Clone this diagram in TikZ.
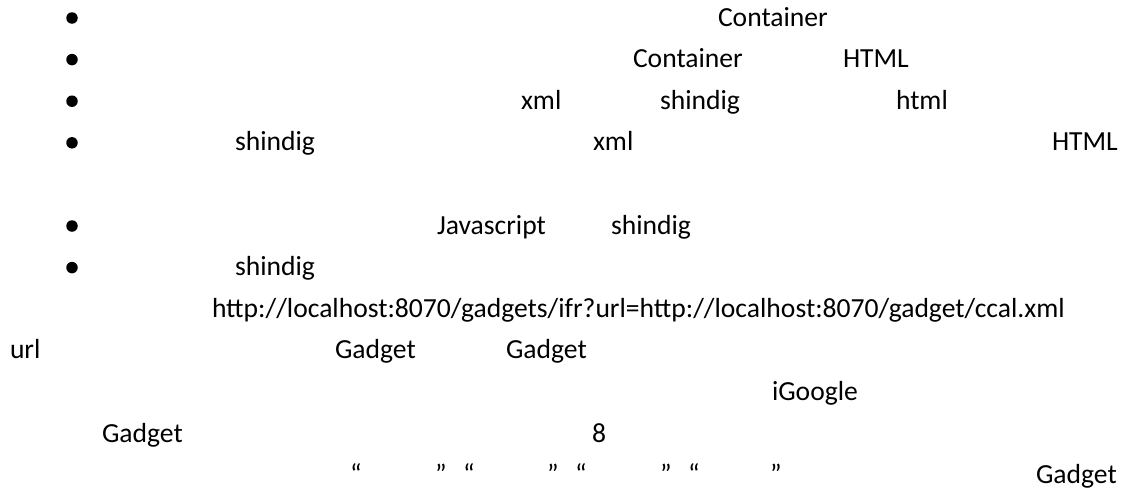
\documentclass[tikz,border=0pt]{standalone}
\usepackage{fontspec}
\setmainfont{Carlito}
\begin{document}
\begin{tikzpicture}[x=1pt,y=-1pt,
  txt/.style={anchor=base west,inner sep=0pt,outer sep=0pt,font=\fontsize{27.6}{33}\selectfont,text=black},
  dot/.style={circle,fill=black,inner sep=0pt,minimum size=11.5pt}]
\useasboundingbox (0,0) rectangle (1125,490);
% bullets
\node[dot] (b1) at (72,18) {};
\node[dot] (b2) at (72,59.6) {};
\node[dot] (b3) at (72,101.2) {};
\node[dot] (b4) at (72,142.8) {};
\node[dot] (b5) at (72,226) {};
\node[dot] (b6) at (72,267.6) {};
% line 1
\node[txt] (t1a) at (718,26) {Container};
% line 2
\node[txt] (t2a) at (633,67.6) {Container};
\node[txt] (t2b) at (843,67.6) {HTML};
% line 3
\node[txt] (t3a) at (521,109.2) {xml};
\node[txt] (t3b) at (660,109.2) {shindig};
\node[txt] (t3c) at (896,109.2) {html};
% line 4
\node[txt] (t4a) at (235,150.8) {shindig};
\node[txt] (t4b) at (593,150.8) {xml};
\node[txt] (t4c) at (1052,150.8) {HTML};
% line 5
\node[txt] (t5a) at (437,234) {Javascript};
\node[txt] (t5b) at (611,234) {shindig};
% line 6
\node[txt] (t6a) at (235,275.6) {shindig};
% line 7
\node[txt] (t7a) at (212,317.2) {http://localhost:8070/gadgets/ifr?url=http://localhost:8070/gadget/ccal.xml};
% line 8
\node[txt] (t8a) at (10,358.8) {url};
\node[txt] (t8b) at (335,358.8) {Gadget};
\node[txt] (t8c) at (506,358.8) {Gadget};
% line 9
\node[txt] (t9a) at (772,400.4) {iGoogle};
% line 10
\node[txt] (t10a) at (102,442) {Gadget};
\node[txt] (t10b) at (592,442) {8};
% line 11
\node[txt] (q1) at (350,483.6) {“};
\node[txt] (q2) at (435,483.6) {”};
\node[txt] (q3) at (463,483.6) {“};
\node[txt] (q4) at (547,483.6) {”};
\node[txt] (q5) at (575,483.6) {“};
\node[txt] (q6) at (660,483.6) {”};
\node[txt] (q7) at (688,483.6) {“};
\node[txt] (q8) at (770,483.6) {”};
\node[txt] (t11a) at (1036,483.6) {Gadget};
\end{tikzpicture}
\end{document}
